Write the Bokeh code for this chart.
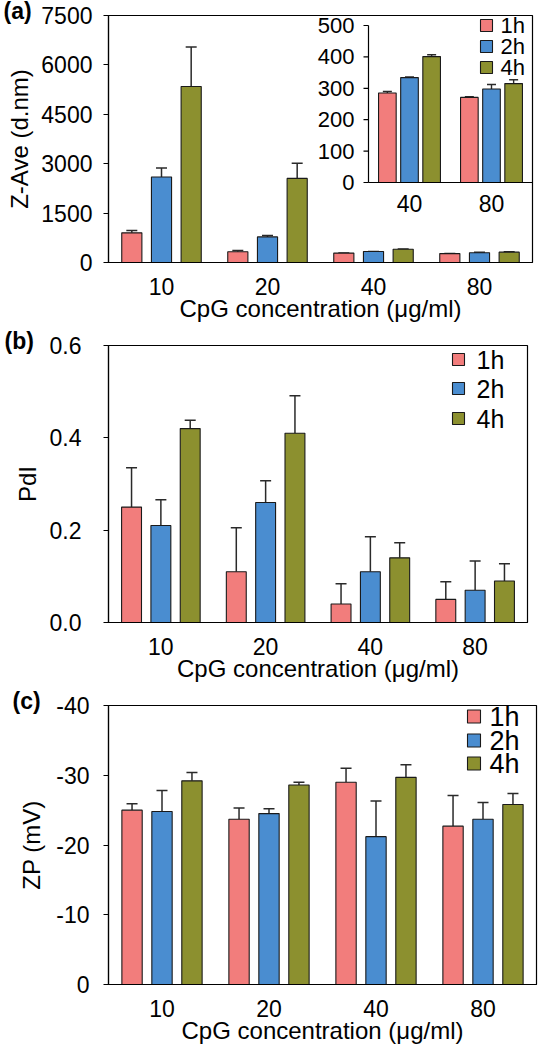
import numpy as np
from bokeh.plotting import figure
from bokeh.layouts import column
from bokeh.models import (Range1d, FixedTicker, ColumnDataSource, Whisker,
                          TeeHead, Title, NumeralTickFormatter)
from bokeh.core.properties import value
from bokeh.embed import file_html
from bokeh.resources import INLINE

# ---------------- data ----------------
CONC = ["10", "20", "40", "80"]
HOURS = ["1h", "2h", "4h"]
COLORS = ["#F27D7C", "#4A8DD0", "#8C902F"]

# (a) Z-Ave (d.nm)
ZAVE_1H = [900, 325, 285, 271]
ZAVE_2H = [2595, 778, 334, 298]
ZAVE_4H = [5345, 2553, 401, 315]
ZAVE_ERR_1H = [70, 40, 5, 2]
ZAVE_ERR_2H = [277, 40, 2, 14]
ZAVE_ERR_4H = [1197, 459, 6, 12]
ZAVE_TICKS = [0, 1500, 3000, 4500, 6000, 7500]
INSET_CONC = ["40", "80"]
INSET_TICKS = [0, 100, 200, 300, 400, 500]

# (b) PdI
PDI_1H = [0.25, 0.11, 0.04, 0.05]
PDI_2H = [0.21, 0.26, 0.11, 0.07]
PDI_4H = [0.42, 0.41, 0.14, 0.09]
PDI_ERR_1H = [0.085, 0.095, 0.044, 0.038]
PDI_ERR_2H = [0.056, 0.047, 0.076, 0.063]
PDI_ERR_4H = [0.018, 0.081, 0.033, 0.037]
PDI_TICKS = [0.0, 0.2, 0.4, 0.6]

# (c) ZP (mV)
ZP_1H = [-25.0, -23.7, -29.0, -22.7]
ZP_2H = [-24.8, -24.5, -21.2, -23.7]
ZP_4H = [-29.2, -28.6, -29.7, -25.8]
ZP_ERR_1H = [0.9, 1.6, 2.0, 4.4]
ZP_ERR_2H = [3.0, 0.7, 5.1, 2.4]
ZP_ERR_4H = [1.2, 0.4, 1.8, 1.6]
ZP_TICKS = [0, -10, -20, -30, -40]

XLABEL = "CpG concentration (μg/ml)"

# ---------------- style ----------------
FONT = "Liberation Sans"
OFFSETS = [-0.28, 0.0, 0.28]
BAR_W = 0.19
EDGE = "#1a1a1a"
ERRC = "#2a2a2a"

CAT_POS = np.arange(len(CONC)) + 0.5   # category centres on the numeric x scale


def style_axes(p, tick_standoff, label_standoff, ylabel):
    p.grid.visible = False
    p.outline_line_color = "black"
    p.outline_line_width = 1.2
    for ax in (p.xaxis[0], p.yaxis[0]):
        ax.axis_line_color = "black"
        ax.axis_line_width = 1.2
        ax.major_tick_line_width = 1.2
        ax.minor_tick_out = 0
        ax.minor_tick_in = 0
        ax.major_tick_in = 0
        ax.major_label_text_font = FONT
        ax.major_label_text_font_size = "23px"
        ax.major_label_text_color = "black"
        ax.axis_label_text_font = FONT
        ax.axis_label_text_font_size = "24px"
        ax.axis_label_text_font_style = "normal"
        ax.axis_label_text_color = "black"
    xa = p.xaxis[0]
    xa.ticker = FixedTicker(ticks=list(CAT_POS))
    xa.major_label_overrides = {float(x): c for x, c in zip(CAT_POS, CONC)}
    xa.major_tick_out = 0
    xa.major_label_standoff = 15
    xa.axis_label = XLABEL
    xa.axis_label_standoff = -3
    ya = p.yaxis[0]
    ya.major_tick_out = 5
    ya.major_label_standoff = tick_standoff
    ya.axis_label = ylabel
    ya.axis_label_standoff = label_standoff


def px_x(p, fw, px):
    """frame-relative pixel -> data x"""
    r = p.x_range
    return r.start + px / fw * (r.end - r.start)


def px_y(p, fh, px_from_top):
    """frame-relative pixel (from top) -> data y"""
    r = p.y_range
    return r.end - px_from_top / fh * (r.end - r.start)


def make_panel(letter, means, errs, sign, y_range, ticks, ylabel, frame_w, frame_h,
               left, right, top, bottom, tick_standoff, label_standoff,
               leg_font, leg_size, leg_x, leg_text_x, leg_ys):
    p = figure(x_range=Range1d(0, len(CONC)), y_range=y_range,
               frame_width=frame_w, frame_height=frame_h,
               min_border_left=left, min_border_right=right,
               min_border_top=top, min_border_bottom=bottom,
               output_backend="svg", toolbar_location=None, tools="",
               background_fill_color="white", border_fill_color="white")
    for i, h in enumerate(HOURS):
        src = ColumnDataSource(dict(
            x=CAT_POS + OFFSETS[i], top=means[i], lower=means[i],
            upper=[m + sign * e for m, e in zip(means[i], errs[i])]))
        p.vbar(x="x", top="top", bottom=0, width=BAR_W, fill_color=COLORS[i],
               line_color=EDGE, line_width=1.1, source=src)
        p.add_layout(Whisker(base="x", lower="lower", upper="upper", source=src,
                             line_color=ERRC, line_width=1.5,
                             upper_head=TeeHead(size=11, line_color=ERRC, line_width=1.5),
                             lower_head=None))
    p.yaxis.ticker = FixedTicker(ticks=ticks)
    style_axes(p, tick_standoff, label_standoff, ylabel)

    # legend: coloured keys + labels
    ly = [px_y(p, frame_h, v) for v in leg_ys]
    p.scatter(x=[px_x(p, frame_w, leg_x)] * len(HOURS), y=ly, marker="square",
              size=leg_size, fill_color=COLORS, line_color=EDGE, line_width=1.1)
    p.text(x=[px_x(p, frame_w, leg_text_x)] * len(HOURS), y=ly, text=HOURS,
           text_align="left", text_baseline="middle", text_font=value(FONT),
           text_font_size=leg_font, text_color="black")

    # panel letter, as a left-aligned title pulled over the top-left corner
    p.add_layout(Title(text=letter, align="left", offset=-left + 3, standoff=-16,
                       text_font=FONT, text_font_style="bold", text_font_size="23px",
                       text_color="black"), "above")
    return p


# ---------------- panel (a) ----------------
A_FW, A_FH = 424, 247
pa = make_panel(
    "(a)", [ZAVE_1H, ZAVE_2H, ZAVE_4H], [ZAVE_ERR_1H, ZAVE_ERR_2H, ZAVE_ERR_4H], 1,
    Range1d(0, ZAVE_TICKS[-1]), ZAVE_TICKS, "Z-Ave (d.nm)", A_FW, A_FH,
    108, 7, 15, 68, 11, 5,
    "22px", 12, 378, 392, [10, 31, 52])

# inset (drawn inside panel (a) on its own ranges)
INSET_LEFT_PX = 260      # inset y-axis distance from frame left
INSET_BOTTOM_PX = 80     # inset x-axis distance from frame bottom
INSET_TOP_PX = 10        # inset top tick distance from frame top
n_in = len(INSET_CONC)
px_per_x = (A_FW - INSET_LEFT_PX) / n_in
px_per_y = (A_FH - INSET_BOTTOM_PX - INSET_TOP_PX) / INSET_TICKS[-1]
pa.extra_x_ranges = {"ix": Range1d(-INSET_LEFT_PX / px_per_x, n_in)}
pa.extra_y_ranges = {"iy": Range1d(-INSET_BOTTOM_PX / px_per_y,
                                   INSET_TICKS[-1] + INSET_TOP_PX / px_per_y)}
in_idx = [CONC.index(c) for c in INSET_CONC]
in_means = [[m[k] for k in in_idx] for m in (ZAVE_1H, ZAVE_2H, ZAVE_4H)]
in_errs = [[e[k] for k in in_idx] for e in (ZAVE_ERR_1H, ZAVE_ERR_2H, ZAVE_ERR_4H)]
IN_OFF = [-0.27, 0.0, 0.27]
for i in range(len(HOURS)):
    xs = np.arange(n_in) + 0.5 + IN_OFF[i]
    src = ColumnDataSource(dict(x=xs, top=in_means[i], lower=in_means[i],
                                upper=[m + e for m, e in zip(in_means[i], in_errs[i])]))
    pa.vbar(x="x", top="top", bottom=0, width=0.215, fill_color=COLORS[i],
            line_color=EDGE, line_width=1.1, source=src,
            x_range_name="ix", y_range_name="iy")
    pa.add_layout(Whisker(base="x", lower="lower", upper="upper", source=src,
                          line_color=ERRC, line_width=1.4,
                          upper_head=TeeHead(size=9, line_color=ERRC, line_width=1.4),
                          lower_head=None, x_range_name="ix", y_range_name="iy"))
pa.segment(x0=[0, 0], y0=[0, 0], x1=[0, n_in], y1=[INSET_TICKS[-1], 0],
           line_color="black", line_width=1.2, x_range_name="ix", y_range_name="iy")
pa.ray(x=[0] * len(INSET_TICKS), y=INSET_TICKS, length=5, length_units="screen",
       angle=np.pi, line_color="black", line_width=1.2,
       x_range_name="ix", y_range_name="iy")
pa.text(x=[0] * len(INSET_TICKS), y=INSET_TICKS, text=[str(t) for t in INSET_TICKS],
        x_offset=-14, text_align="right", text_baseline="middle",
        text_font=value(FONT), text_font_size="22px", text_color="black",
        x_range_name="ix", y_range_name="iy")
pa.text(x=np.arange(n_in) + 0.5, y=[0] * n_in, text=INSET_CONC, y_offset=12,
        text_align="center", text_baseline="top",
        text_font=value(FONT), text_font_size="23px", text_color="black",
        x_range_name="ix", y_range_name="iy")

# ---------------- panel (b) ----------------
B_FW, B_FH = 419, 277
pb = make_panel(
    "(b)", [PDI_1H, PDI_2H, PDI_4H], [PDI_ERR_1H, PDI_ERR_2H, PDI_ERR_4H], 1,
    Range1d(0, PDI_TICKS[-1]), PDI_TICKS, "PdI", B_FW, B_FH,
    107, 13, 15, 68, 22, 6,
    "25px", 12, 350, 368, [14, 43, 73])
pb.yaxis.formatter = NumeralTickFormatter(format="0.0")

# ---------------- panel (c) ----------------
C_FW, C_FH = 428, 279
pc = make_panel(
    "(c)", [ZP_1H, ZP_2H, ZP_4H], [ZP_ERR_1H, ZP_ERR_2H, ZP_ERR_4H], -1,
    Range1d(0, ZP_TICKS[-1]), ZP_TICKS, "ZP (mV)", C_FW, C_FH,
    99, 12, 15, 66, 14, 8,
    "27px", 13, 365.5, 381, [11, 35, 58])
pc.yaxis.major_label_overrides = {t: str(t) for t in ZP_TICKS}

layout = column(pa, pb, pc, spacing=0)
open("out.html", "w").write(file_html(layout, INLINE))
